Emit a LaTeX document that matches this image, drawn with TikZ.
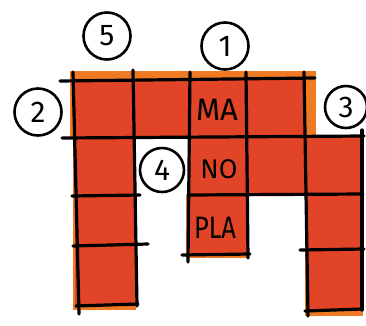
\documentclass[tikz,border=0pt]{standalone}
\usepackage{fontspec}
\setmainfont{Fira Sans}
\usepackage{tikz}
\usetikzlibrary{positioning}

\begin{document}
\begin{tikzpicture}[
      x=1pt, y=-1pt,
      gridline/.style={line width=3.2pt, black, line cap=round},
      numc/.style={circle, draw, line width=2.6pt, minimum size=47pt, inner sep=0pt,
        font=\fontsize{30}{32}\selectfont},
      cellt/.style={inner sep=0pt, font=\fontsize{31}{33}\selectfont},
    ]
    \definecolor{cwred}{RGB}{225,68,38}
    \definecolor{cworange}{RGB}{240,122,36}

    \useasboundingbox (0,0) rectangle (366,325);
    \clip (0,0) rectangle (366,325);

    \foreach \xa/\ya/\xb/\yb in {70/71/316/137, 73/137/136/310, 190/137/363/196, 186/195/248/258, 305/195/363/316}
      \fill[cworange] (\xa,\ya) rectangle (\xb,\yb);
    \foreach \xa/\ya/\xb/\yb in {73/80/305/137, 75/137/135/305, 190/137/362/195, 190/195/247/255, 306/195/362/310}
      \fill[cwred] (\xa,\ya) rectangle (\xb,\yb);

    \draw[gridline] (60,81) -- (315,78);
    \draw[gridline] (62,138) -- (364,136);
    \draw[gridline] (72,196) -- (140,195);
    \draw[gridline] (188,195) -- (363,194);
    \draw[gridline] (73,246) -- (148,244);
    \draw[gridline] (300,250) -- (364,249);
    \draw[gridline] (182,255) -- (250,254);
    \draw[gridline] (76,306) -- (138,304);
    \draw[gridline] (305,311) -- (362,309);

    \draw[gridline] (73,72) -- (79,314);
    \draw[gridline] (133,70) -- (137,306);
    \draw[gridline] (190,72) -- (188,262);
    \draw[gridline] (246,72) -- (248,258);
    \draw[gridline] (304,72) -- (308,316);
    \draw[gridline] (362,130) -- (362,310);

    \node[numc] (n5) at (107,36) {5};
    \node[numc] (n1) at (225,46) {1};
    \node[numc] (n2) at (38,112) {2};
    \node[numc, minimum size=42pt] (n3) at (346,107) {3};
    \node[numc, minimum size=44pt] (n4) at (162,170) {4};

    \node[cellt] (ma) at (217,110) {MA};
    \node[cellt, font=\fontsize{27}{29}\selectfont] (no) at (219,169) {NO};
    \node[cellt] (pla) at (215,228) {\scalebox{0.82}[1]{PLA}};
  \end{tikzpicture}
\end{document}
